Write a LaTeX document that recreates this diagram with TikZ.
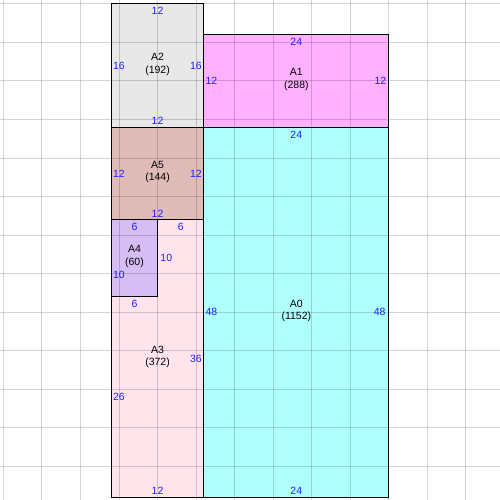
\documentclass[tikz,border=0pt]{standalone}
\usepackage{fontspec}
\setmainfont{Liberation Sans}
\definecolor{cA0}{RGB}{176,255,255}
\definecolor{cA1}{RGB}{255,176,255}
\definecolor{cA2}{RGB}{232,232,232}
\definecolor{cA3}{RGB}{255,228,236}
\definecolor{cA4}{RGB}{214,190,244}
\definecolor{cA5}{RGB}{224,188,184}
\definecolor{dimblue}{RGB}{30,30,255}
\tikzset{
  dimlbl/.style={text=dimblue, inner sep=0pt, font=\fontsize{10.5}{12.5}\selectfont},
  namelbl/.style={text=black, inner sep=0pt, align=center, font=\fontsize{10.5}{12.5}\selectfont},
  gridline/.style={draw=black, draw opacity=0.17, line width=1pt},
  border/.style={draw=black, line width=1pt}
}
\begin{document}
\begin{tikzpicture}[x=7.71pt,y=7.71pt]
\useasboundingbox (-14.44,-0.35) rectangle (50.42,64.5);
\fill[white] (-14.44,-0.35) rectangle (50.42,64.5);
% fills
\fill[cA2] (0,48) rectangle (12,64);
\fill[cA1] (12,48) rectangle (36,60);
\fill[cA5] (0,36) rectangle (12,48);
\fill[cA0] (12,0) rectangle (36,48);
\fill[cA4] (0,26) rectangle (6,36);
\fill[cA3] (0,0) -- (12,0) -- (12,36) -- (6,36) -- (6,26) -- (0,26) -- cycle;
% grid
\foreach \gx in {-14,-9,...,46} \draw[gridline] (\gx,-0.35) -- (\gx,64.5);
\foreach \gy in {4,9,...,64} \draw[gridline] (-14.44,\gy) -- (50.42,\gy);
% borders
\draw[border] (0,48) rectangle (12,64);
\draw[border] (12,48) rectangle (36,60);
\draw[border] (0,36) rectangle (12,48);
\draw[border] (12,0) rectangle (36,48);
\draw[border] (0,26) rectangle (6,36);
\draw[border] (0,0) -- (12,0) -- (12,36) -- (6,36) -- (6,26) -- (0,26) -- cycle;
% names
\node[namelbl] (nA2) at (6,56.17) {A2\\(192)};
\node[namelbl] (nA1) at (24,54.17) {A1\\(288)};
\node[namelbl] (nA5) at (6,42.17) {A5\\(144)};
\node[namelbl] (nA0) at (24,24.17) {A0\\(1152)};
\node[namelbl] (nA4) at (3,31.22) {A4\\(60)};
\node[namelbl] (nA3) at (6,18.2) {A3\\(372)};
% A2 dims
\node[dimlbl] (a2t) at (6,63.05) {12};
\node[dimlbl] (a2b) at (6,48.8) {12};
\node[dimlbl, anchor=west] (a2l) at (0.2,56) {16};
\node[dimlbl, anchor=east] (a2r) at (11.75,56) {16};
% A1 dims
\node[dimlbl] (a1t) at (24,59.05) {24};
\node[dimlbl, anchor=west] (a1l) at (12.2,54) {12};
\node[dimlbl, anchor=east] (a1r) at (35.7,54) {12};
% A0 dims
\node[dimlbl] (a0t) at (24,46.95) {24};
\node[dimlbl] (a0b) at (24,0.8) {24};
\node[dimlbl, anchor=west] (a0l) at (12.2,24) {48};
\node[dimlbl, anchor=east] (a0r) at (35.6,24) {48};
% A5 dims
\node[dimlbl, anchor=west] (a5l) at (0.2,42) {12};
\node[dimlbl, anchor=east] (a5r) at (11.75,42) {12};
\node[dimlbl] (a5b) at (6,36.8) {12};
% A4 dims
\node[dimlbl] (a4t) at (3,35.05) {6};
\node[dimlbl, anchor=west] (a4l) at (0.2,28.8) {10};
% A3 dims
\node[dimlbl] (a3t) at (9,35.05) {6};
\node[dimlbl, anchor=west] (a3n) at (6.35,31.05) {10};
\node[dimlbl] (a3u) at (3,25.1) {6};
\node[dimlbl, anchor=west] (a3l) at (0.2,13) {26};
\node[dimlbl, anchor=east] (a3r) at (11.75,18) {36};
\node[dimlbl] (a3b) at (6,0.8) {12};
\end{tikzpicture}
\end{document}
